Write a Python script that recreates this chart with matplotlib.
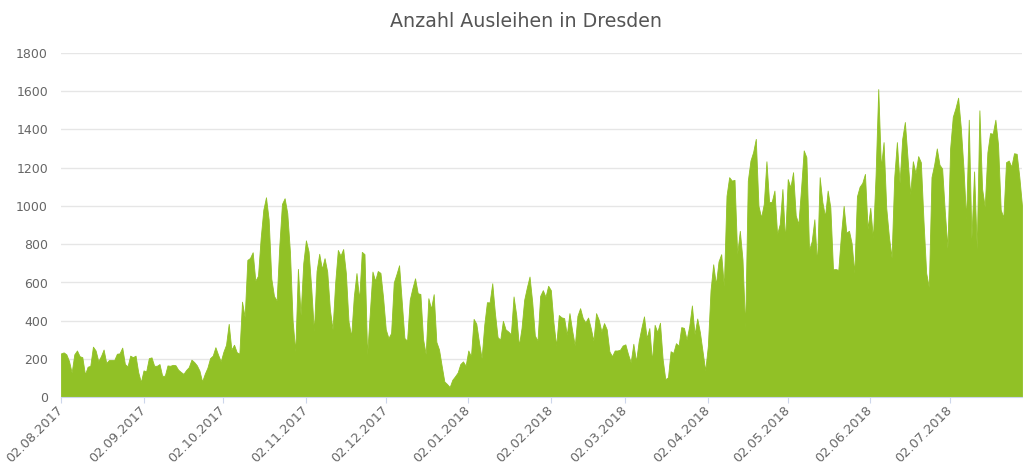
import pandas as pd
import numpy as np
import matplotlib
matplotlib.use("Agg")
import matplotlib.pyplot as plt
import matplotlib.dates as mdates

# daily rentals, one list per month (first day is 02.08.2017)
aug_2017 = [230, 235, 225, 190, 130, 225, 245, 215, 210, 120, 160, 165, 265, 245, 190,
            215, 250, 180, 195, 195, 195, 228, 230, 260, 174, 162, 218, 210, 218, 132]
sep_2017 = [80, 141, 136, 205, 209, 165, 165, 174, 113, 113, 167, 165, 170, 168, 145,
            133, 123, 143, 158, 197, 185, 168, 140, 83, 123, 155, 205, 218, 262, 223]
oct_2017 = [188, 238, 275, 384, 249, 275, 236, 228, 500, 420, 718, 728, 758, 609, 635,
            831, 980, 1045, 930, 620, 530, 505, 790, 1010, 1040, 962, 760, 400, 240, 671, 430]
nov_2017 = [700, 820, 762, 570, 344, 660, 750, 671, 727, 657, 460, 355, 600, 770, 740,
            775, 650, 397, 318, 527, 649, 510, 760, 748, 223, 440, 657, 609, 660, 650]
dec_2017 = [520, 355, 310, 336, 600, 643, 690, 500, 310, 296, 510, 570, 622, 544, 540,
            305, 226, 518, 463, 539, 290, 250, 165, 83, 70, 54, 92, 110, 130, 174, 188]
jan_2018 = [165, 245, 214, 410, 385, 290, 205, 379, 497, 496, 596, 440, 315, 301, 400,
            355, 344, 330, 527, 431, 270, 362, 510, 574, 631, 500, 323, 296, 530, 560, 525]
feb_2018 = [583, 560, 390, 270, 430, 418, 414, 327, 440, 350, 271, 426, 466, 414, 392,
            417, 362, 296, 440, 405, 344, 388, 355, 240, 215, 245, 245, 249]
mar_2018 = [271, 277, 226, 183, 280, 188, 292, 362, 423, 310, 362, 188, 379, 341, 390,
            200, 95, 105, 241, 232, 283, 270, 367, 363, 302, 372, 480, 330, 412, 340, 240]
apr_2018 = [140, 270, 560, 695, 590, 710, 748, 580, 1053, 1150, 1132, 1136, 748, 870, 720,
            363, 1132, 1237, 1281, 1350, 1000, 940, 1010, 1233, 1019, 1022, 1080, 853, 905, 1088]
may_2018 = [820, 1140, 1097, 1176, 950, 905, 1090, 1290, 1254, 770, 815, 930, 695, 1150, 1020,
            945, 1080, 992, 669, 670, 666, 850, 1000, 860, 870, 805, 650, 1050, 1100, 1120, 1167]
jun_2018 = [880, 990, 830, 1160, 1610, 1200, 1333, 990, 840, 730, 1150, 1333, 1120, 1350, 1438,
            1250, 1060, 1233, 1170, 1260, 1228, 920, 650, 575, 1150, 1215, 1300, 1215, 1195, 970]
jul_2018 = [780, 1300, 1465, 1510, 1565, 1410, 1200, 930, 1450, 830, 1180, 775, 1499, 1090, 995,
            1280, 1380, 1377, 1450, 1320, 980, 940, 1228, 1237, 1205, 1275, 1272, 1150, 1000]

months = [aug_2017, sep_2017, oct_2017, nov_2017, dec_2017, jan_2018,
          feb_2018, mar_2018, apr_2018, may_2018, jun_2018, jul_2018]
werte = np.concatenate(months)
tage = pd.date_range("2017-08-02", periods=len(werte), freq="D")
# ticks on the 2nd of every month
ticks = pd.date_range("2017-08-01", "2018-07-01", freq="MS") + pd.Timedelta(days=1)

gruen = "#91c126"
fig = plt.figure(figsize=(10.23, 4.67), dpi=100)
ax = fig.add_axes([61 / 1023, 69.6 / 467, 961 / 1023, 344.7 / 467])

ax.fill_between(tage, werte, 0, color=gruen, linewidth=0.6, edgecolor=gruen)

ax.set_xlim(tage[0], tage[-1])
ax.set_ylim(0, 1800)
ax.set_yticks(np.arange(0, 1801, 200))
ax.set_xticks(ticks)
ax.xaxis.set_major_formatter(mdates.DateFormatter("%d.%m.%Y"))

ax.grid(axis="y", color="#e6e6e6", linewidth=1)
ax.set_axisbelow(True)
for s in ["top", "right", "left"]:
    ax.spines[s].set_visible(False)
ax.spines["bottom"].set_color("#ccd6eb")

ax.tick_params(axis="y", length=0, pad=9.4, labelsize=9, labelcolor="#666666")
ax.tick_params(axis="x", length=4, color="#ccd6eb", pad=4, labelsize=9.3, labelcolor="#666666")
for lab in ax.get_xticklabels():
    lab.set_rotation(45)
    lab.set_ha("right")
    lab.set_va("center")
    lab.set_rotation_mode("anchor")

fig.suptitle("Anzahl Ausleihen in Dresden", x=526 / 1023, y=0.975, va="top",
             fontsize=13.7, color="#555555")

plt.savefig("out.png", dpi=100)
